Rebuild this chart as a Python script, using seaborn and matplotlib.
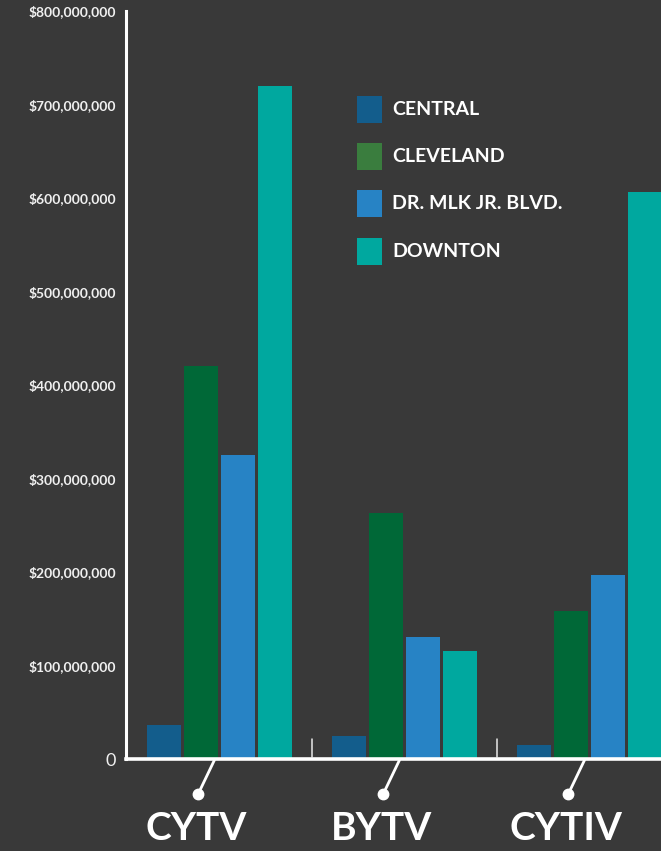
import matplotlib
matplotlib.use("Agg")
import matplotlib.pyplot as plt
import matplotlib.transforms as mtransforms
from matplotlib.patches import Rectangle
import seaborn as sns
import pandas as pd

# ---- data ----
categories = ["CYTV", "BYTV", "CYTIV"]
series = ["CENTRAL", "CLEVELAND", "DR. MLK JR. BLVD.", "DOWNTON"]
central = [36e6, 25e6, 15e6]
cleveland = [420e6, 263e6, 158e6]
mlk = [325e6, 130e6, 197e6]
downtown = [720e6, 115e6, 606e6]
y_ticks = [0, 100e6, 200e6, 300e6, 400e6, 500e6, 600e6, 700e6, 800e6]
y_tick_labels = ["0", "$100,000,000", "$200,000,000", "$300,000,000", "$400,000,000",
                 "$500,000,000", "$600,000,000", "$700,000,000", "$800,000,000"]

bar_colors = ["#135d8c", "#006837", "#2783c5", "#00a89f"]
legend_colors = ["#135d8c", "#3a7d3e", "#2783c5", "#00a89f"]
BG = "#393939"

rows = []
for name, vals in zip(series, [central, cleveland, mlk, downtown]):
    for cat, v in zip(categories, vals):
        rows.append({"category": cat, "series": name, "value": v})
df = pd.DataFrame(rows)

sns.set_theme(style="white")
plt.rcParams["font.family"] = ["Lato", "DejaVu Sans"]

W, H = 661, 851
fig = plt.figure(figsize=(W / 100, H / 100), dpi=100, facecolor=BG)
ax = fig.add_axes([126 / W, (H - 759) / H, (661 - 126) / W, (759 - 11) / H])
ax.set_facecolor(BG)

sns.barplot(data=df, x="category", y="value", hue="series", order=categories,
            hue_order=series, palette=bar_colors, width=0.8, gap=0.08,
            saturation=1, legend=False, ax=ax, errorbar=None, edgecolor="none")

ax.set_xlim(-0.505, 2.386)
ax.set_ylim(0, 800e6)
ax.set_xlabel("")
ax.set_ylabel("")
ax.set_xticks([])

ax.set_yticks(y_ticks)
ax.tick_params(axis="y", direction="in", length=9.5, width=1.3, color="#a8a8a8",
               pad=7)
ax.set_yticklabels(y_tick_labels, fontsize=10, fontweight="bold", color="#f0f0f0")
zero_lab = ax.get_yticklabels()[0]
zero_lab.set_fontweight("normal")
zero_lab.set_fontsize(13)
ax.yaxis.get_major_ticks()[0].tick1line.set_visible(False)

for s in ["top", "right"]:
    ax.spines[s].set_visible(False)
ax.spines["left"].set_color("white")
ax.spines["left"].set_linewidth(2.2)
ax.spines["bottom"].set_color("white")
ax.spines["bottom"].set_linewidth(2.6)

trans = mtransforms.blended_transform_factory(ax.transData, ax.transAxes)
px = 1 / 748.0

# group separators
for xs in [0.5, 1.5]:
    ax.plot([xs, xs], [2 * px, 20 * px], color="#e8e8e8", lw=1.1, transform=trans,
            clip_on=False)

# category pointer lines, dots and labels
for i, cat in enumerate(categories):
    x_top = i - 0.027
    x_dot = i - 0.115
    ax.plot([x_top, x_dot], [-1 * px, -35 * px], color="white", lw=2,
            transform=trans, clip_on=False, solid_capstyle="round")
    ax.plot([x_dot], [-35 * px], "o", color="white", ms=7.5, transform=trans,
            clip_on=False)
    ax.text(i - 0.125, -70 * px, cat, transform=trans, ha="center", va="center",
            color="white", fontsize=28, fontweight="bold", clip_on=False)

# legend
for k, (name, col) in enumerate(zip(series, legend_colors)):
    top = 96 + k * 47.2
    fig.patches.append(Rectangle((356.5 / W, (H - top - 27) / H), 25 / W, 27 / H,
                                 transform=fig.transFigure, facecolor=col,
                                 edgecolor="none"))
    fig.text(392 / W, (H - top - 13.5) / H, name, color="white", fontsize=14,
             fontweight="bold", ha="left", va="center")

fig.savefig("out.png", dpi=100, facecolor=BG)
